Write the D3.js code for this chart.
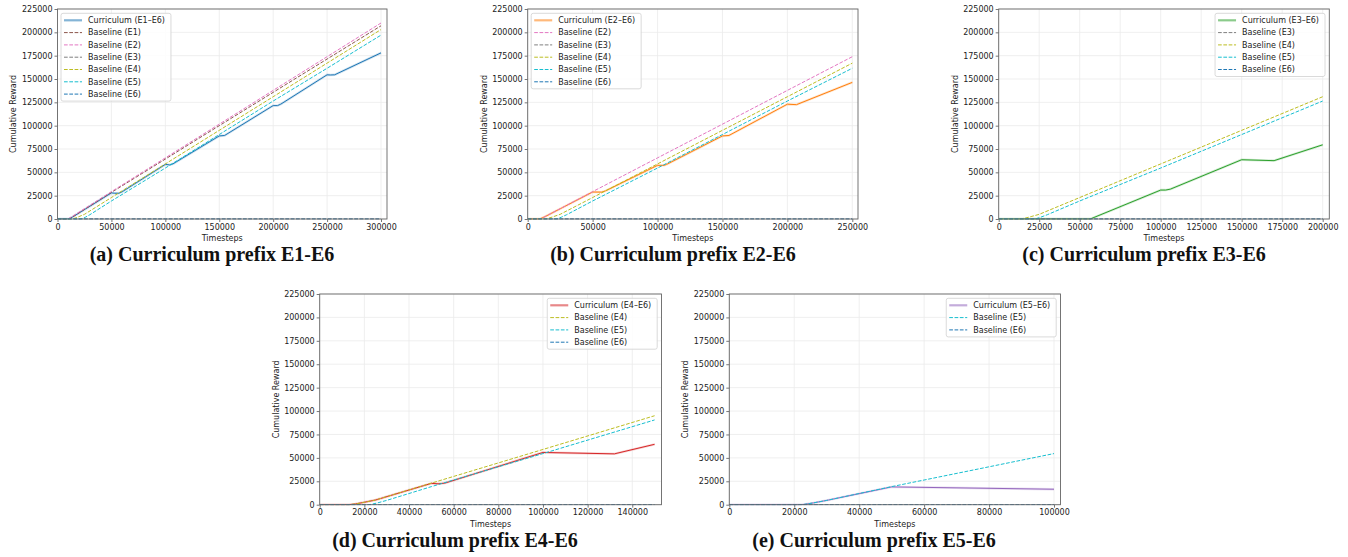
<!DOCTYPE html>
<html><head><meta charset="utf-8">
<script src="https://cdn.jsdelivr.net/npm/d3@7"></script>
<style>body{margin:0;background:#fff}svg{display:block}</style>
</head><body>
<svg id="c" width="1348" height="557"></svg>
<script>
// ---------------- data ----------------
const yTicks = [0,25000,50000,75000,100000,125000,150000,175000,200000,225000];
const xTicksA = [0,50000,100000,150000,200000,250000,300000];
const xTicksB = [0,50000,100000,150000,200000,250000];
const xTicksC = [0,25000,50000,75000,100000,125000,150000,175000,200000];
const xTicksD = [0,20000,40000,60000,80000,100000,120000,140000];
const xTicksE = [0,20000,40000,60000,80000,100000];

// baselines: [timestep, cumulative reward]
const baselineE1 = [[0,0],[9000,0],[11000,400],[14000,2200],[50000,28500],[100000,64200],[150000,100000],[200000,135700],[250000,171400],[300000,207000]];
const baselineE2 = [[0,0],[8000,0],[10000,400],[13000,2300],[50000,29300],[100000,65500],[150000,101600],[200000,137800],[250000,173900],[300000,210000]];
const baselineE3 = [[0,0],[100000,0],[200000,0],[300000,0]];
const baselineE4 = [[0,0],[13000,0],[16000,800],[20000,2600],[25000,5000],[50000,23000],[100000,59000],[150000,95000],[200000,131000],[250000,167000],[300000,203000]];
const baselineE5 = [[0,0],[21000,0],[23000,300],[26000,2000],[30000,4600],[50000,19300],[100000,54600],[150000,90500],[200000,126400],[250000,161500],[300000,197000]];
const baselineE6 = [[0,0],[100000,0],[200000,0],[300000,0]];

// curricula
const curE1E6 = [[0,0],[9000,0],[11000,400],[14000,2200],[50000,28000],[53000,27600],[57000,27600],[60000,29200],[100000,58500],[104000,58000],[107000,59000],[150000,89000],[155000,89500],[200000,121500],[204000,121500],[207000,123000],[250000,154500],[253000,154300],[257000,154500],[300000,178000]];
const curE2E6 = [[0,0],[8000,0],[10000,400],[13000,2300],[50000,28900],[57000,28800],[60000,30200],[100000,57500],[105000,57500],[107000,58500],[150000,89000],[155000,89500],[200000,123000],[207000,122500],[250000,146400]];
const curE3E6 = [[0,0],[56500,0],[100000,31000],[103000,31000],[106000,32000],[150000,63500],[170000,62500],[200000,79500]];
const curE4E6 = [[0,0],[13000,0],[16000,800],[20000,2600],[25000,5000],[50000,22800],[53000,22300],[56000,23000],[100000,55800],[132000,54300],[150000,64500]];
const curE5E6 = [[0,0],[21000,0],[23000,300],[26000,2000],[30000,4600],[50000,19000],[100000,16500]];

const captions = ["(a) Curriculum prefix E1-E6","(b) Curriculum prefix E2-E6","(c) Curriculum prefix E3-E6","(d) Curriculum prefix E4-E6","(e) Curriculum prefix E5-E6"];

// ---------------- styles ----------------
const COL = {cur1:"#1f77b4",cur2:"#ff7f0e",cur3:"#2ca02c",cur4:"#d62728",cur5:"#9467bd",
  E1:"#8c564b",E2:"#e377c2",E3:"#7f7f7f",E4:"#bcbd22",E5:"#17becf",E6:"#1f77b4"};
const B = {
  E1:{name:"Baseline (E1)",data:baselineE1,color:COL.E1},
  E2:{name:"Baseline (E2)",data:baselineE2,color:COL.E2},
  E3:{name:"Baseline (E3)",data:baselineE3,color:COL.E3},
  E4:{name:"Baseline (E4)",data:baselineE4,color:COL.E4},
  E5:{name:"Baseline (E5)",data:baselineE5,color:COL.E5},
  E6:{name:"Baseline (E6)",data:baselineE6,color:COL.E6}
};

const panels = [
  {left:57.5,right:387,top:9,bottom:219,xEnd:300000,xMax:305564,xTicks:xTicksA,
   cur:{name:"Curriculum (E1\u2013E6)",data:curE1E6,color:COL.cur1},base:["E1","E2","E3","E4","E5","E6"],legend:"left",capX:212,capY:261},
  {left:527.7,right:858,top:9,bottom:219,xEnd:250000,xMax:254390,xTicks:xTicksB,
   cur:{name:"Curriculum (E2\u2013E6)",data:curE2E6,color:COL.cur2},base:["E2","E3","E4","E5","E6"],legend:"left",capX:673,capY:261},
  {left:998.7,right:1329.3,top:9,bottom:219,xEnd:200000,xMax:204074,xTicks:xTicksC,
   cur:{name:"Curriculum (E3\u2013E6)",data:curE3E6,color:COL.cur3},base:["E3","E4","E5","E6"],legend:"right",capX:1144,capY:261},
  {left:319.7,right:661.5,top:294,bottom:504.7,xEnd:150000,xMax:153090,xTicks:xTicksD,
   cur:{name:"Curriculum (E4\u2013E6)",data:curE4E6,color:COL.cur4},base:["E4","E5","E6"],legend:"right",capX:455,capY:547},
  {left:729.3,right:1060.5,top:294,bottom:504.7,xEnd:100000,xMax:102000,xTicks:xTicksE,
   cur:{name:"Curriculum (E5\u2013E6)",data:curE5E6,color:COL.cur5},base:["E5","E6"],legend:"right",capX:874,capY:547}
];

const svg = d3.select("#c");
const FONT = "DejaVu Sans, sans-serif";

function clip(data, xEnd){
  const out=[];
  for(let i=0;i<data.length;i++){
    const p=data[i];
    if(p[0]<=xEnd){out.push(p);}
    else{
      const q=data[i-1];
      const t=(xEnd-q[0])/(p[0]-q[0]);
      out.push([xEnd,q[1]+t*(p[1]-q[1])]);
      break;
    }
  }
  return out;
}

panels.forEach((P,pi)=>{
  const g = svg.append("g");
  const x = d3.scaleLinear().domain([0,P.xMax]).range([P.left,P.right]);
  const y = d3.scaleLinear().domain([0,225000]).range([P.bottom,P.top]);
  const clipId = "clip"+pi;
  svg.append("clipPath").attr("id",clipId).append("rect")
    .attr("x",P.left).attr("y",P.top-2).attr("width",P.right-P.left).attr("height",P.bottom-P.top+2.5);

  // grid
  g.append("g").selectAll("line").data(P.xTicks).join("line")
    .attr("x1",d=>x(d)).attr("x2",d=>x(d)).attr("y1",P.top).attr("y2",P.bottom)
    .attr("stroke","#ebebeb").attr("stroke-width",0.8);
  g.append("g").selectAll("line").data(yTicks).join("line")
    .attr("x1",P.left).attr("x2",P.right).attr("y1",d=>y(d)).attr("y2",d=>y(d))
    .attr("stroke","#ebebeb").attr("stroke-width",0.8);

  // axes
  const xa = g.append("g").attr("transform",`translate(0,${P.bottom})`)
    .call(d3.axisBottom(x).tickValues(P.xTicks).tickFormat(d3.format("d")).tickSize(3).tickPadding(2));
  const ya = g.append("g").attr("transform",`translate(${P.left},0)`)
    .call(d3.axisLeft(y).tickValues(yTicks).tickFormat(d3.format("d")).tickSize(3).tickPadding(2));
  [xa,ya].forEach(a=>{
    a.select(".domain").remove();
    a.selectAll(".tick line").attr("stroke","#555").attr("stroke-width",0.8);
    a.selectAll(".tick text").attr("font-family",FONT).attr("font-size",8).attr("fill","#222");
  });

  const line = d3.line().x(d=>x(d[0])).y(d=>y(d[1]));
  const lg = g.append("g").attr("clip-path",`url(#${clipId})`);
  // curriculum: faint band + thin line
  const cd = clip(P.cur.data,P.xEnd);
  lg.append("path").attr("d",line(cd)).attr("fill","none").attr("stroke",P.cur.color)
    .attr("stroke-opacity",0.22).attr("stroke-width",2.4).attr("stroke-linejoin","round");
  lg.append("path").attr("d",line(cd)).attr("fill","none").attr("stroke",P.cur.color)
    .attr("stroke-width",1).attr("stroke-linejoin","round");
  // baselines
  P.base.forEach(k=>{
    const b=B[k];
    lg.append("path").attr("d",line(clip(b.data,P.xEnd))).attr("fill","none").attr("stroke",b.color)
      .attr("stroke-width",1).attr("stroke-dasharray","3.7,1.6");
  });

  // frame
  g.append("rect").attr("x",P.left).attr("y",P.top).attr("width",P.right-P.left).attr("height",P.bottom-P.top)
    .attr("fill","none").attr("stroke","#666").attr("stroke-width",0.9);

  // labels
  g.append("text").attr("x",(P.left+P.right)/2).attr("y",P.bottom+19).attr("dy","0.35em")
    .attr("text-anchor","middle").attr("font-family",FONT).attr("font-size",8).attr("fill","#222").text("Timesteps");
  g.append("text").attr("transform",`translate(${P.left-44},${(P.top+P.bottom)/2}) rotate(-90)`).attr("dy","0.35em")
    .attr("text-anchor","middle").attr("font-family",FONT).attr("font-size",8).attr("fill","#222").text("Cumulative Reward");

  // legend
  const items=[{name:P.cur.name,color:P.cur.color,cur:true}].concat(P.base.map(k=>({name:B[k].name,color:B[k].color,cur:false})));
  const leg = g.append("g");
  const texts = items.map((it,i)=>leg.append("text").attr("x",0).attr("y",7+i*12.3).attr("dy","0.35em")
      .attr("font-family",FONT).attr("font-size",8).attr("fill","#222").text(it.name));
  const tw = d3.max(texts,t=>t.node().getComputedTextLength());
  const w = 27+tw+6, h=(items.length-1)*12.3+14;
  const bx = P.legend==="left" ? P.left+3.5 : P.right-4.3-w;
  const by = P.top+4.3;
  leg.attr("transform",`translate(${bx},${by})`);
  leg.insert("rect",":first-child").attr("x",0).attr("y",0).attr("width",w).attr("height",h).attr("rx",2)
    .attr("fill","#fff").attr("fill-opacity",0.85).attr("stroke","#d0d0d0").attr("stroke-width",0.8);
  texts.forEach(t=>t.attr("x",27));
  items.forEach((it,i)=>{
    const yy=7+i*12.3;
    const l=leg.append("line").attr("x1",3).attr("x2",21).attr("y1",yy).attr("y2",yy).attr("stroke",it.color);
    if(it.cur) l.attr("stroke-width",2.2).attr("stroke-opacity",0.55);
    else l.attr("stroke-width",1).attr("stroke-dasharray","3.7,1.6");
  });

  // caption
  svg.append("text").attr("x",P.capX).attr("y",P.capY).attr("text-anchor","middle")
    .attr("font-family","Liberation Serif, serif").attr("font-weight","bold").attr("font-size",20)
    .attr("fill","#111").text(captions[pi]);
});
</script>
</body></html>
